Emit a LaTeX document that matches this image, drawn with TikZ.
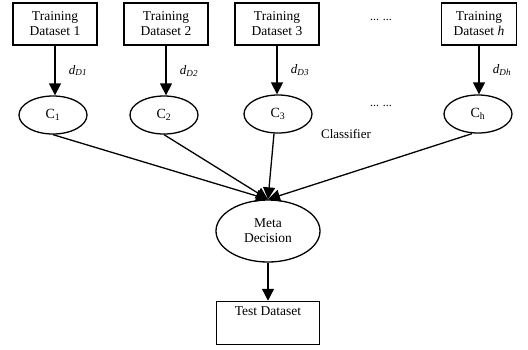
\documentclass[tikz,border=0pt]{standalone}
\usepackage{fontspec}
\setmainfont{Liberation Serif}
\usetikzlibrary{arrows.meta,positioning,shapes.geometric}

\begin{document}
\begin{tikzpicture}[x=1pt,y=-1pt,
  box/.style={draw,line width=1.5pt,minimum width=84pt,minimum height=42pt,inner sep=0pt,align=center,font=\fontsize{13.5}{15}\selectfont},
  clf/.style={draw,ellipse,line width=1.3pt,minimum width=68pt,minimum height=38pt,inner sep=0pt,font=\fontsize{14}{15}\selectfont},
  arr/.style={line width=1.3pt,-{Triangle[length=12pt,width=12pt]}},
  lbl/.style={font=\fontsize{13}{14}\selectfont\itshape}]
  \useasboundingbox (0,0) rectangle (528,349);
  % training sets
  \node[box] (t1) at (55,24) {Training\\Dataset 1};
  \node[box] (t2) at (166,24) {Training\\Dataset 2};
  \node[box] (t3) at (277,24) {Training\\Dataset 3};
  \node[box,minimum width=75pt] (th) at (479,24) {Training\\Dataset \textit{h}};
  \node[font=\fontsize{12}{14}\selectfont] (dots1) at (381,20) {... ...};
  % classifiers
  \node[clf] (c1) at (53,115) {C\textsubscript{1}};
  \node[clf] (c2) at (164,115) {C\textsubscript{2}};
  \node[clf] (c3) at (278,114) {C\textsubscript{3}};
  \node[clf] (ch) at (478,114) {C\textsubscript{h}};
  \node[font=\fontsize{12}{14}\selectfont] (dots2) at (381,106) {... ...};
  \node[font=\fontsize{13}{15}\selectfont] (cname) at (346,134) {Classifier};
  % meta level
  \node[clf,minimum width=104pt,minimum height=62pt,align=center,font=\fontsize{13.5}{15}\selectfont] (meta) at (268,231) {Meta\\Decision};
  \node[box,minimum width=103pt,minimum height=43pt,
    label={[font=\fontsize{13.5}{15}\selectfont,anchor=north,yshift=-2pt]north:Test Dataset}] (test) at (268,323) {};
  % connectors
  \draw[arr] (t1) -- (t1 |- c1.north) node[lbl,midway,right=10pt] {d\textsubscript{D1}};
  \draw[arr] (t2) -- (t2 |- c2.north) node[lbl,midway,right=10pt] {d\textsubscript{D2}};
  \draw[arr] (t3) -- (t3 |- c3.north) node[lbl,midway,right=10pt] {d\textsubscript{D3}};
  \draw[arr] (th) -- (th |- ch.north) node[lbl,midway,right=10pt] {d\textsubscript{Dh}};
  \draw[arr] (c1.south) -- (meta.north);
  \draw[arr] (c2.south) -- (meta.north);
  \draw[arr] ([xshift=-4pt]c3.south) -- (meta.north);
  \draw[arr] ([xshift=-6pt]ch.south) -- (meta.north);
  \draw[arr] (meta) -- (test);
\end{tikzpicture}
\end{document}
